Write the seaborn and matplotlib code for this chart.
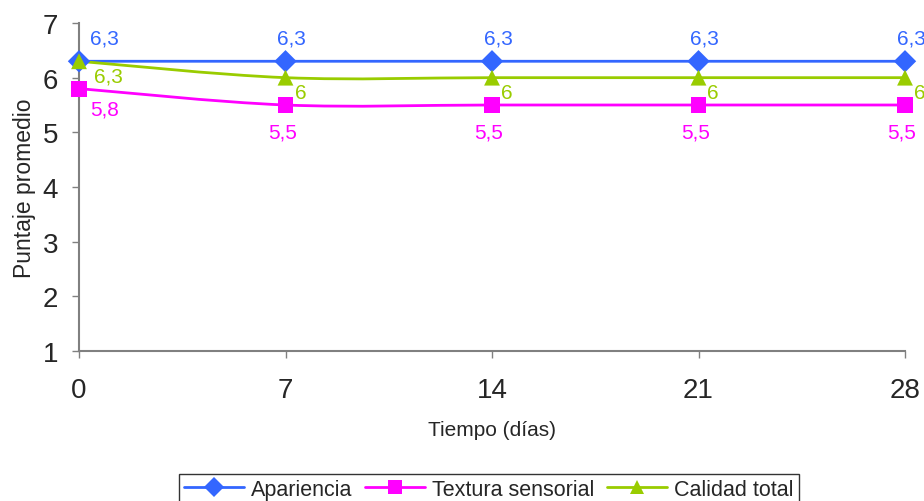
import numpy as np
import matplotlib
matplotlib.use("Agg")
import matplotlib.pyplot as plt
import seaborn as sns
import pandas as pd
from matplotlib.path import Path
from matplotlib.patches import PathPatch
from matplotlib.lines import Line2D

# data
dias = [0, 7, 14, 21, 28]
apariencia = [6.3, 6.3, 6.3, 6.3, 6.3]
textura = [5.8, 5.5, 5.5, 5.5, 5.5]
calidad = [6.3, 6.0, 6.0, 6.0, 6.0]
series_names = ["Apariencia", "Textura sensorial", "Calidad total"]

colors = {"Apariencia": "#3366FF", "Textura sensorial": "#FF00FF", "Calidad total": "#99CC00"}
markers = {"Apariencia": "D", "Textura sensorial": "s", "Calidad total": "^"}

df = pd.DataFrame({"dias": dias * 3,
                   "puntaje": apariencia + textura + calidad,
                   "serie": sum([[n] * len(dias) for n in series_names], [])})

sns.set_theme(style="white")
plt.rcParams['font.family'] = ['Liberation Sans', 'DejaVu Sans']

fig = plt.figure(figsize=(9.24, 5.02), dpi=100)
ax = fig.add_axes([79 / 924, 1 - 352 / 502, (905 - 79) / 924, (352 - 24) / 502])


def smooth_path(x, y):
    # excel-like smoothed line: cubic bezier segments through the points
    pts = np.column_stack([x, y]).astype(float)
    n = len(pts)
    verts = [pts[0]]
    codes = [Path.MOVETO]
    for i in range(n - 1):
        p0 = pts[max(i - 1, 0)]
        p1 = pts[i]
        p2 = pts[i + 1]
        p3 = pts[min(i + 2, n - 1)]
        c1 = p1 + (p2 - p0) / 6
        c2 = p2 - (p3 - p1) / 6
        verts += [c1, c2, p2]
        codes += [Path.CURVE4] * 3
    return Path(verts, codes)


for name in series_names:
    sub = df[df.serie == name]
    ax.add_patch(PathPatch(smooth_path(sub.dias.values, sub.puntaje.values),
                           fill=False, ec=colors[name], lw=2, zorder=2,
                           clip_on=False))

sns.scatterplot(data=df, x="dias", y="puntaje", hue="serie", style="serie",
                palette=colors, markers=markers, s=130, edgecolor="none",
                legend=False, ax=ax, zorder=3, clip_on=False)


def fmt(v):
    return f"{v:g}".replace(".", ",")


# data labels (offsets in pixels)
lab_fs = 15
for i, x in enumerate(dias):
    ax.annotate(fmt(apariencia[i]), (x, apariencia[i]),
                xytext=(25 if i == 0 else 6, 23), textcoords="offset pixels",
                ha="center", va="center", fontsize=lab_fs,
                color=colors["Apariencia"])
    ax.annotate(fmt(textura[i]), (x, textura[i]),
                xytext=(26 if i == 0 else -3, -20 if i == 0 else -27),
                textcoords="offset pixels", ha="center", va="center",
                fontsize=lab_fs, color=colors["Textura sensorial"])
    ax.annotate(fmt(calidad[i]), (x, calidad[i]),
                xytext=(15 if i == 0 else 9, -15), textcoords="offset pixels",
                ha="left", va="center", fontsize=lab_fs,
                color=colors["Calidad total"])

ax.set_xlim(0, 28)
ax.set_ylim(1, 7)
ax.set_xticks(dias)
ax.set_yticks(range(1, 8))
ax.tick_params(axis="both", labelsize=20, length=5, width=1, color="#808080",
               direction="out", left=True, bottom=True)
ax.tick_params(axis="x", pad=14)
ax.tick_params(axis="y", pad=10)
for side in ["top", "right"]:
    ax.spines[side].set_visible(False)
for side in ["left", "bottom"]:
    ax.spines[side].set_color("#808080")
    ax.spines[side].set_linewidth(1.5)

ax.set_xlabel("Tiempo (días)", fontsize=15, labelpad=12)
ax.set_ylabel("Puntaje promedio", fontsize=16.5, labelpad=5)

handles = [Line2D([0], [0], color=colors[n], marker=markers[n], lw=2, ms=10,
                  markeredgewidth=0) for n in series_names]
leg = fig.legend(handles, series_names, loc="lower center",
                 bbox_to_anchor=(0.529, -0.03), ncol=3, fontsize=15.5,
                 frameon=True, fancybox=False, handlelength=2.8,
                 handletextpad=0.3, columnspacing=0.6, borderpad=0.25)
leg.get_frame().set_edgecolor("black")
leg.get_frame().set_linewidth(1)

fig.savefig("out.png", dpi=100)
